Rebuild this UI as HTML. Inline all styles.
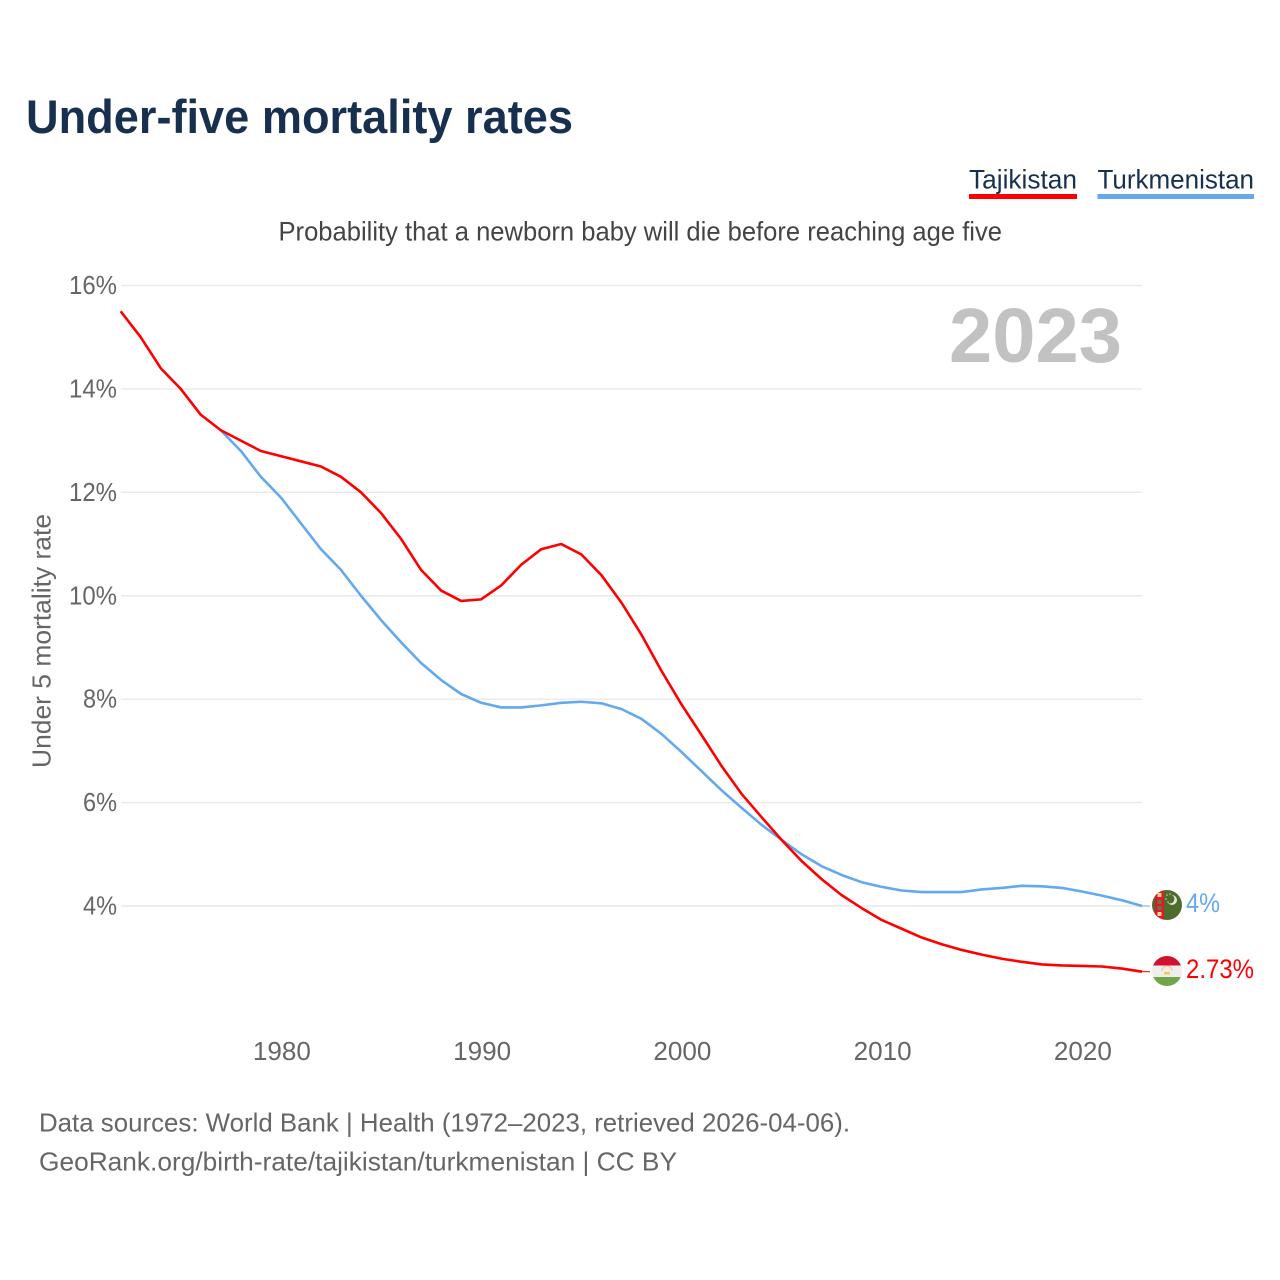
<!DOCTYPE html>
<html lang="en">
<head>
<meta charset="utf-8">
<title>Under-five mortality rates</title>
<style>
html,body{margin:0;padding:0;background:#fff;width:1280px;height:1280px;overflow:hidden}
svg{display:block;font-family:"Liberation Sans",sans-serif}
</style>
</head>
<body>
<svg id="chart" xmlns="http://www.w3.org/2000/svg" width="1280" height="1280" viewBox="0 0 1280 1280">
  <rect x="0" y="0" width="1280" height="1280" fill="#ffffff"/>
  <text x="26" y="133" font-size="47" font-weight="700" fill="#18304f" textLength="547" lengthAdjust="spacingAndGlyphs">Under-five mortality rates</text>
  <g>
    <g>
      <text x="969" y="188.5" font-size="27" fill="#18304f" textLength="108" lengthAdjust="spacingAndGlyphs">Tajikistan</text>
      <rect x="969" y="194" width="108" height="5" fill="#ff0000"/>
    </g>
    <g>
      <text x="1097.5" y="188.5" font-size="27" fill="#18304f" textLength="156.5" lengthAdjust="spacingAndGlyphs">Turkmenistan</text>
      <rect x="1097.5" y="194" width="156.5" height="5" fill="#64a8ee"/>
    </g>
  </g>
  <text x="278.5" y="240.5" font-size="26.5" fill="#444444" textLength="723.5" lengthAdjust="spacingAndGlyphs">Probability that a newborn baby will die before reaching age five</text>
  <g id="grid"></g>
  <g id="yticks"></g>
  <g id="xticks"></g>
  <text transform="translate(50.5,641) rotate(-90)" text-anchor="middle" font-size="26" fill="#666666" textLength="254" lengthAdjust="spacingAndGlyphs">Under 5 mortality rate</text>
  <text x="949" y="362" font-size="77" font-weight="700" fill="#c2c2c2" textLength="173" lengthAdjust="spacingAndGlyphs">2023</text>
  <g id="series"></g>
  <defs>
    <clipPath id="flag-clip-tm"><circle cx="1167" cy="905" r="15"/></clipPath>
    <clipPath id="flag-clip-tj"><circle cx="1167" cy="971" r="15"/></clipPath>
  </defs>
  <g clip-path="url(#flag-clip-tm)">
    <rect x="1152" y="890" width="30" height="30" fill="#4e6d2c"/>
    <rect x="1155" y="890" width="9" height="30" fill="#e0182d"/>
    <rect x="1157.5" y="893" width="4" height="4" fill="#f0d98a"/>
    <rect x="1157.5" y="900" width="4" height="4" fill="#5f7a3c"/>
    <rect x="1157.5" y="906" width="4" height="4" fill="#5f7a3c"/>
    <rect x="1157.5" y="912" width="4" height="4" fill="#f0d98a"/>
    <circle cx="1172" cy="900" r="5" fill="#dfe6d2"/>
    <circle cx="1170" cy="899" r="4.4" fill="#4e6d2c"/>
    <circle cx="1167" cy="895" r="0.8" fill="#c9d4b6"/>
    <circle cx="1170" cy="894" r="0.8" fill="#c9d4b6"/>
    <circle cx="1166" cy="899" r="0.8" fill="#c9d4b6"/>
    <circle cx="1168" cy="902" r="0.8" fill="#c9d4b6"/>
  </g>
  <g clip-path="url(#flag-clip-tj)">
    <rect x="1152" y="956" width="30" height="9.5" fill="#d3112f"/>
    <rect x="1152" y="965.5" width="30" height="11.5" fill="#eeeeee"/>
    <rect x="1152" y="977" width="30" height="9" fill="#70a548"/>
    <rect x="1164" y="972" width="6" height="2.5" fill="#f2c94c"/>
    <path d="M1162 971a5 5 0 0 1 10 0" fill="none" stroke="#f0c8a0" stroke-width="1.2"/>
  </g>
  <text id="label-tm" x="1186" y="912" font-size="26.5" fill="#64a8ee" textLength="34" lengthAdjust="spacingAndGlyphs"></text>
  <text id="label-tj" x="1186" y="978" font-size="26.5" fill="#ff0000" textLength="68" lengthAdjust="spacingAndGlyphs"></text>
  <text x="39" y="1131.5" font-size="26" fill="#666666" textLength="811" lengthAdjust="spacingAndGlyphs">Data sources: World Bank | Health (1972–2023, retrieved 2026-04-06).</text>
  <text x="39" y="1170.5" font-size="26" fill="#666666" textLength="638" lengthAdjust="spacingAndGlyphs">GeoRank.org/birth-rate/tajikistan/turkmenistan | CC BY</text>
</svg>
<script>
const tajikYears = [1972,1973,1974,1975,1976,1977,1978,1979,1980,1981,1982,1983,1984,1985,1986,1987,1988,1989,1990,1991,1992,1993,1994,1995,1996,1997,1998,1999,2000,2001,2002,2003,2004,2005,2006,2007,2008,2009,2010,2011,2012,2013,2014,2015,2016,2017,2018,2019,2020,2021,2022,2023];
const tajikValues = [15.5,15.0,14.4,14.0,13.5,13.2,13.0,12.8,12.7,12.6,12.5,12.3,12.0,11.6,11.1,10.5,10.1,9.9,9.93,10.2,10.6,10.9,11.0,10.8,10.4,9.87,9.25,8.55,7.9,7.31,6.71,6.17,5.72,5.28,4.87,4.52,4.21,3.96,3.73,3.56,3.39,3.26,3.15,3.06,2.98,2.92,2.87,2.85,2.84,2.83,2.79,2.73];
const turkmenYears = [1977,1978,1979,1980,1981,1982,1983,1984,1985,1986,1987,1988,1989,1990,1991,1992,1993,1994,1995,1996,1997,1998,1999,2000,2001,2002,2003,2004,2005,2006,2007,2008,2009,2010,2011,2012,2013,2014,2015,2016,2017,2018,2019,2020,2021,2022,2023];
const turkmenValues = [13.2,12.8,12.3,11.9,11.4,10.9,10.5,10.0,9.53,9.1,8.7,8.37,8.1,7.93,7.84,7.84,7.88,7.93,7.95,7.92,7.81,7.62,7.33,6.98,6.61,6.24,5.9,5.57,5.28,5.0,4.77,4.6,4.46,4.37,4.3,4.27,4.27,4.27,4.32,4.35,4.39,4.38,4.35,4.28,4.2,4.11,4.0];
const yTickValues = [4,6,8,10,12,14,16];
const xTickValues = [1980,1990,2000,2010,2020];

const SVGNS = 'http://www.w3.org/2000/svg';
const xScale = function (year) { return 120.7 + (year - 1972) * (1142 - 120.7) / (2023 - 1972); };
const yScale = function (value) { return 906 - (value - 4) * (906 - 285.5) / 12; };
const make = function (tag) { return document.createElementNS(SVGNS, tag); };

const gridGroup = document.getElementById('grid');
const yTickGroup = document.getElementById('yticks');
const xTickGroup = document.getElementById('xticks');
const seriesGroup = document.getElementById('series');

yTickValues.forEach(function (tick) {
  const line = make('line');
  
  
  line.setAttribute('x1', 121);
  line.setAttribute('x2', 1142);
  line.setAttribute('y1', yScale(tick));
  line.setAttribute('y2', yScale(tick));
  line.setAttribute('stroke', '#e9e9e9');
  line.setAttribute('stroke-width', 1.4);
  gridGroup.appendChild(line);

  const label = make('text');
  
  
  label.setAttribute('x', 117);
  label.setAttribute('y', yScale(tick) + 8.5);
  label.setAttribute('text-anchor', 'end');
  label.setAttribute('font-size', 26);
  label.setAttribute('fill', '#666666');
  label.setAttribute('textLength', tick >= 10 ? 48 : 34);
  label.setAttribute('lengthAdjust', 'spacingAndGlyphs');
  label.textContent = tick + '%';
  yTickGroup.appendChild(label);
});

xTickValues.forEach(function (tick) {
  const label = make('text');
  
  
  label.setAttribute('x', xScale(tick) + 1);
  label.setAttribute('y', 1060);
  label.setAttribute('text-anchor', 'middle');
  label.setAttribute('font-size', 26);
  label.setAttribute('fill', '#666666');
  label.setAttribute('textLength', 58);
  label.setAttribute('lengthAdjust', 'spacingAndGlyphs');
  label.textContent = tick;
  xTickGroup.appendChild(label);
});

const pathFor = function (years, values) {
  return years.map(function (year, i) {
    return (i ? 'L' : 'M') + xScale(year).toFixed(2) + ' ' + yScale(values[i]).toFixed(2);
  }).join(' ');
};

const turkmenLine = make('path');


turkmenLine.setAttribute('d', pathFor(turkmenYears, turkmenValues));
turkmenLine.setAttribute('fill', 'none');
turkmenLine.setAttribute('stroke', '#64a8ee');
turkmenLine.setAttribute('stroke-width', 2.6);
turkmenLine.setAttribute('stroke-linejoin', 'round');
seriesGroup.appendChild(turkmenLine);

const tajikLine = make('path');


tajikLine.setAttribute('d', pathFor(tajikYears, tajikValues));
tajikLine.setAttribute('fill', 'none');
tajikLine.setAttribute('stroke', '#ff0000');
tajikLine.setAttribute('stroke-width', 2.6);
tajikLine.setAttribute('stroke-linejoin', 'round');
seriesGroup.appendChild(tajikLine);

const turkmenLast = turkmenValues[turkmenValues.length - 1];
const tajikLast = tajikValues[tajikValues.length - 1];

const turkmenConnector = make('line');


turkmenConnector.setAttribute('x1', 1142);
turkmenConnector.setAttribute('x2', 1150);
turkmenConnector.setAttribute('y1', yScale(turkmenLast));
turkmenConnector.setAttribute('y2', yScale(turkmenLast));
turkmenConnector.setAttribute('stroke', '#64a8ee');
turkmenConnector.setAttribute('stroke-width', 1);
seriesGroup.appendChild(turkmenConnector);

const tajikConnector = make('line');


tajikConnector.setAttribute('x1', 1142);
tajikConnector.setAttribute('x2', 1150);
tajikConnector.setAttribute('y1', yScale(tajikLast));
tajikConnector.setAttribute('y2', yScale(tajikLast));
tajikConnector.setAttribute('stroke', '#ff0000');
tajikConnector.setAttribute('stroke-width', 1);
seriesGroup.appendChild(tajikConnector);

document.getElementById('label-tm').textContent = turkmenLast + '%';
document.getElementById('label-tj').textContent = tajikLast + '%';
</script>
</body>
</html>
